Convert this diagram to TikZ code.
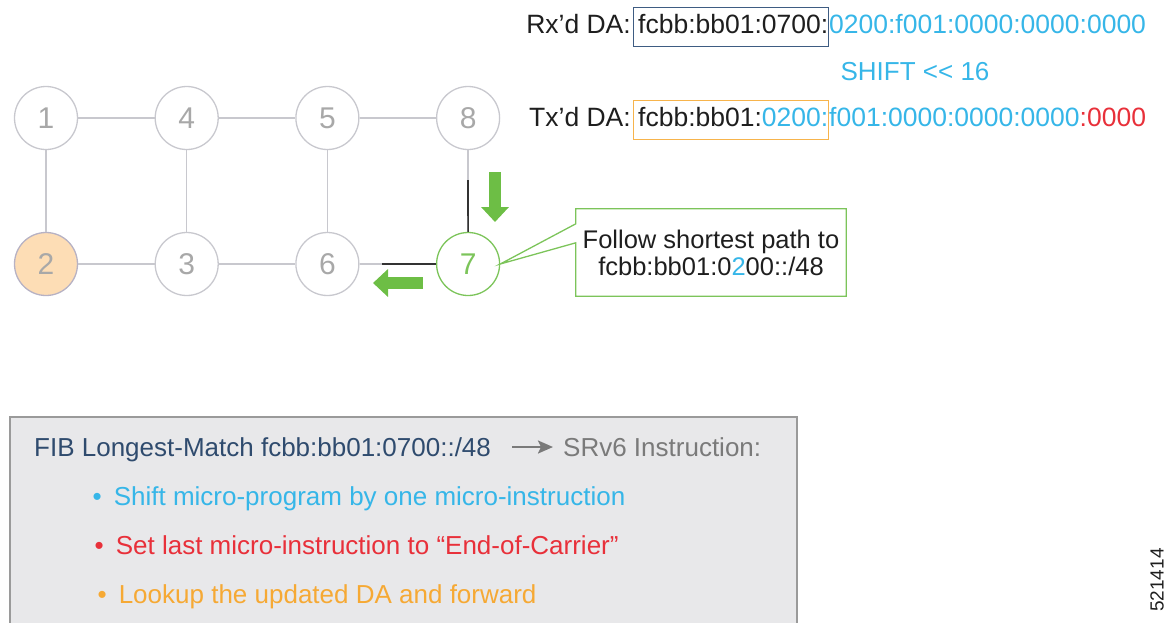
\documentclass[tikz,border=0pt]{standalone}
\usepackage{fontspec}
\setmainfont{Liberation Sans}
\usetikzlibrary{positioning,arrows.meta}

\definecolor{txtdark}{HTML}{1E1E1E}
\definecolor{edgegray}{HTML}{C8C8CE}
\definecolor{numgray}{HTML}{A8A8A8}
\definecolor{hopdark}{HTML}{333333}
\definecolor{flowgreen}{HTML}{6DBE45}
\definecolor{ringgreen}{HTML}{7CC45A}
\definecolor{shiftblue}{HTML}{36B6E8}
\definecolor{alertred}{HTML}{E8303A}
\definecolor{lookorange}{HTML}{F6A934}
\definecolor{rxblue}{HTML}{3E5C82}
\definecolor{txorange}{HTML}{F7B44C}
\definecolor{peach}{HTML}{FDDDB5}
\definecolor{peachedge}{HTML}{B7B2C4}
\definecolor{panelfill}{HTML}{E8E8EA}
\definecolor{paneledge}{HTML}{9A9A9A}
\definecolor{fibblue}{HTML}{2F4B6E}
\definecolor{instrgray}{HTML}{7A7A7A}

\newcommand{\itemdot}{\textbullet\hspace{12pt}}

\begin{document}
\begin{tikzpicture}[x=1pt, y=-1pt, node distance = 146pt and 140.7pt, on grid,
	every node/.style={font=\fontsize{26}{28}\selectfont, text=txtdark},
	router/.style={circle, draw=edgegray, line width=1.3pt, minimum size=63pt, inner sep=0pt,
		font=\fontsize{30}{30}\selectfont, text=numgray},
	link/.style={draw=edgegray, line width=1.3pt},
	hop/.style={draw=hopdark, line width=1.6pt},
	flow/.style={draw=flowgreen, line width=12pt, -{Triangle[length=15pt, width=27pt]}},
	daline/.style={font=\fontsize{26.5}{28}\selectfont},
	dabox/.style={daline, draw, line width=1.4pt, inner ysep=8pt, text height=18pt, text depth=5pt},
	callout/.style={draw=ringgreen, line width=1.3pt},
	panel/.style={draw=paneledge, fill=panelfill, line width=1.5pt}]
	%\draw[help lines] (0,0) grid (1169,622);
	\useasboundingbox (0,0) rectangle (1169,622);
	
	\node (rxbox) [dabox, draw=rxblue, anchor=base west, inner xsep=0pt] at (633,33.5)
		{\hspace{4.5pt}fcbb:bb01:0700:\hspace{1pt}};
	\node (rxlbl) [daline, anchor=base east, inner xsep=2pt] at (rxbox.base west) {Rx’d DA:};
	\node (rxrest) [daline, anchor=base west, inner xsep=0pt, text=shiftblue] at (rxbox.base east)
		{0200:f001:0000:0000:0000};
	
	\node (shift) [text=shiftblue] at (915,72) {SHIFT <{}< 16};
	
	\node (txbox) [dabox, draw=txorange, anchor=base west, inner xsep=0pt] at (633,126.5)
		{\hspace{4.5pt}fcbb:bb01:\textcolor{shiftblue}{0200:}\hspace{1pt}};
	\node (txlbl) [daline, anchor=base east, inner xsep=2pt] at (txbox.base west) {Tx’d DA:};
	\node (txrest) [daline, anchor=base west, inner xsep=0pt] at (txbox.base east)
		{\textcolor{shiftblue}{f001:0000:0000:0000}\textcolor{alertred}{:0000}};
	
	\node (n1) [router] at (46,118) {1};
	\node (n4) [router, right = of n1] {4};
	\node (n5) [router, right = of n4] {5};
	\node (n8) [router, right = of n5] {8};
	\node (n2) [router, fill=peach, draw=peachedge, below = of n1] {2};
	\node (n3) [router, right = of n2] {3};
	\node (n6) [router, right = of n3] {6};
	\node (n7) [router, draw=ringgreen, text=ringgreen, right = of n6] {7};
	
	\coordinate (k87) at (468,180);
	\coordinate (k76) at (382,264);
	
	\begin{scope}[link]
		\draw (n1) -- (n4) -- (n5) -- (n8);
		\draw (n2) -- (n3) -- (n6) -- (n7);
		\draw (n1) -- (n2);
		\draw (n4) -- (n3);
		\draw (n5) -- (n6);
		\draw (n8) -- (n7);
	\end{scope}
	\draw[hop] (n7) -- (k87);
	\draw[hop] (n7) -- (k76);
	
	\coordinate (dtail) at (495,172);
	\coordinate (dtip) at (495,222);
	\coordinate (ltail) at (423,283);
	\coordinate (ltip) at (373,283);
	\draw[flow] (dtail) -- (dtip);
	\draw[flow] (ltail) -- (ltip);
	
	\node (note) [align=center, minimum width=270pt, minimum height=87pt,
		font=\fontsize{25.5}{27}\selectfont] at (711,252.5)
		{Follow shortest path to\\fcbb:bb01:0\textcolor{shiftblue}{2}00::/48};
	\draw[callout] ([yshift=-15pt]note.north west) -- (note.north west) -- (note.north east)
		-- (note.south east) -- (note.south west) -- ([yshift=-34pt]note.north west)
		-- (n7.east) -- cycle;
	
	\node (panel) [panel, anchor=north west, minimum width=787pt, minimum height=212pt] at (9,416) {};
	\node (fib) [anchor=base west, inner xsep=0pt, text=fibblue] at (34,456) {FIB Longest-Match fcbb:bb01:0700::/48};
	\node (instr) [anchor=base west, inner xsep=0pt, text=instrgray] at (563,456) {SRv6 Instruction:};
	\draw[-{Stealth[length=15pt, width=13pt, inset=3pt]}, draw=instrgray, fill=instrgray, line width=2.2pt,
		shorten <=21pt, shorten >=10pt] ([yshift=9pt]fib.base east) -- ([yshift=9pt]instr.base west);
	
	\node (b1) [anchor=base west, inner xsep=0pt, text=shiftblue] at (92.5,505)
		{\itemdot Shift micro-program by one micro-instruction};
	\node (b2) [anchor=base west, inner xsep=0pt, text=alertred] at (94.5,554)
		{\itemdot Set last micro-instruction to “End-of-Carrier”};
	\node (b3) [anchor=base west, inner xsep=0pt, text=lookorange] at (97.5,603)
		{\itemdot Lookup the updated DA and forward};
	
	\node (figno) [rotate=90, font=\fontsize{19}{19}\selectfont] at (1157,580) {521414};
\end{tikzpicture}
\end{document}
